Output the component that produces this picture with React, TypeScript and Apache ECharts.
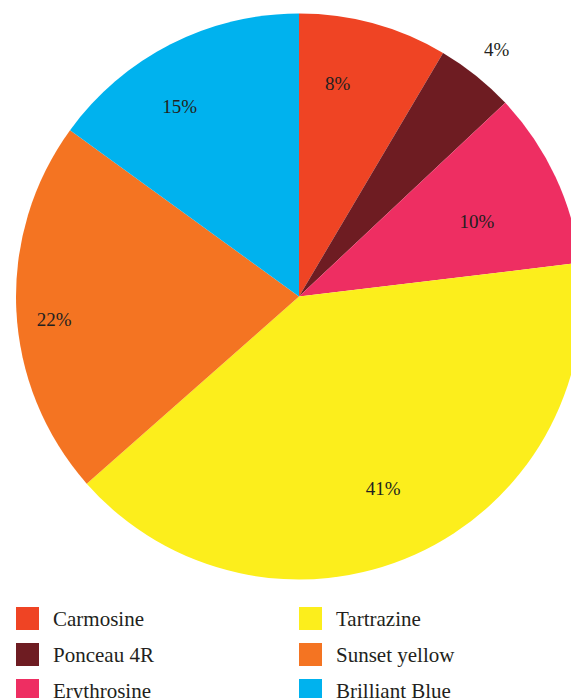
import React, { useEffect, useRef } from "react";
import * as echarts from "echarts";

const categories = ["Carmosine", "Ponceau 4R", "Erythrosine", "Tartrazine", "Sunset yellow", "Brilliant Blue"];
// slice sizes (percent)
const sliceValues = [8.5, 4.5, 10.1, 40.4, 21.5, 15.0];
// percentages printed on the chart
const printedPercents = [8, 4, 10, 41, 22, 15];
const colors = ["#EF4424", "#6E1C22", "#EE2E62", "#FCEE1C", "#F47422", "#00B2EE"];

// label placement styling (radius in px, angle nudge in degrees)
const labelRadius = [216, 316, 193, 210, 246, 224];
const labelAngleShift = [-5, 0, 2.3, 0.5, -2.6, -5.2];

const CX = 299;
const CY = 296.5;
const R = 283;
const FONT = "'Liberation Serif', 'Times New Roman', serif";

export default function App() {
  const ref = useRef<HTMLDivElement>(null);
  useEffect(() => {
    document.body.style.margin = "0";
    if (!ref.current) return;
    const chart = echarts.init(ref.current, undefined, { renderer: "svg" });
    const total = sliceValues.reduce((a, b) => a + b, 0);
    const midAngles: number[] = [];
    let cum = 0;
    sliceValues.forEach((v) => {
      midAngles.push(((cum + v / 2) / total) * 360);
      cum += v;
    });
    const legendText = { fontFamily: FONT, fontSize: 21, color: "#231F20", padding: [0, 0, 0, 9] };
    const legends = categories.map((name, i) => ({
      orient: "vertical",
      left: i < 3 ? 16 : 299,
      top: 607 + (i % 3) * 36,
      padding: 0,
      itemWidth: 23,
      itemHeight: 23,
      icon: "rect",
      selectedMode: false,
      data: [name],
      textStyle: legendText,
    }));
    chart.setOption({
      animation: false,
      color: colors,
      legend: legends,
      series: [
        {
          type: "pie",
          center: [CX, CY],
          radius: [0, R],
          startAngle: 90,
          clockwise: true,
          avoidLabelOverlap: false,
          emphasis: { disabled: true },
          itemStyle: { borderWidth: 0 },
          label: {
            show: true,
            position: "inside",
            fontFamily: FONT,
            fontSize: 19,
            color: "#231F20",
            formatter: (p: any) => printedPercents[p.dataIndex] + "%",
          },
          labelLine: { show: false },
          labelLayout: (p: any) => {
            const i = p.dataIndex;
            const a = ((midAngles[i] + labelAngleShift[i]) * Math.PI) / 180;
            return {
              x: CX + labelRadius[i] * Math.sin(a),
              y: CY - labelRadius[i] * Math.cos(a),
              align: "center",
              verticalAlign: "middle",
            };
          },
          data: categories.map((name, i) => ({ name, value: sliceValues[i] })),
        },
      ],
    });
    return () => chart.dispose();
  }, []);
  return <div ref={ref} style={{ width: 571, height: 698 }} />;
}
